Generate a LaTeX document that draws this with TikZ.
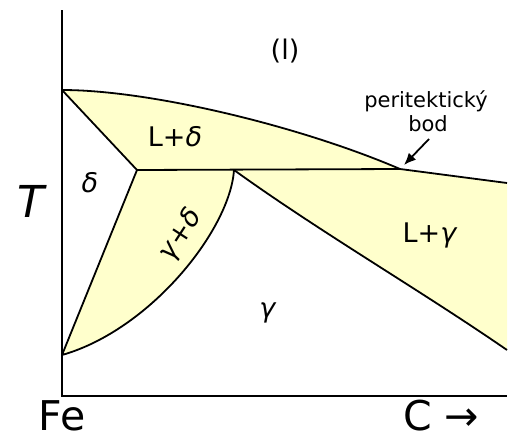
\documentclass[tikz,border=0pt]{standalone}
\usepackage{fontspec}
\setmainfont{DejaVu Sans}[ItalicFont={DejaVu Sans Oblique}]
\usetikzlibrary{arrows.meta}

\definecolor{phasefill}{HTML}{FFFFCC}

\begin{document}
\begin{tikzpicture}[x=1pt, y=-1pt, >=Latex,
      bnd/.style={line width=1.8pt, line join=round},
      ax/.style={line width=1.3pt},
      phase/.style={font=\fontsize{27}{27}\selectfont, inner sep=0pt},
      big/.style={font=\fontsize{41}{41}\selectfont, inner sep=0pt},
      note/.style={font=\fontsize{21}{23}\selectfont, inner sep=0pt}]

    \useasboundingbox (0,0) rectangle (516,439);

    % Key points of the diagram (pixel units, y down)
    \coordinate (yend) at (62,10);
    \coordinate (xend) at (507,396);
    \coordinate (top)  at (62,90);    % melting point of pure Fe
    \coordinate (dsol) at (137,170);  % delta end of peritectic line
    \coordinate (gpk)  at (234,170);  % gamma end of peritectic line
    \coordinate (peri) at (400,169);  % peritectic point
    \coordinate (liqR) at (507,183);
    \coordinate (gamR) at (507,350);
    \coordinate (low)  at (62,355);   % gamma/delta change of pure Fe

    % Two-phase areas
    \fill[phasefill] (top) .. controls (150,90) and (300,126) .. (peri) -- (liqR) -- (gamR)
        .. controls (420,290) and (320,232) .. (gpk) -- (dsol) -- cycle;
    \fill[phasefill] (dsol) -- (low) .. controls (150,330) and (230,230) .. (gpk) -- cycle;

    % Axes
    \draw[ax] (yend) |- (xend);

    % Phase boundaries
    \draw[bnd] (top) .. controls (150,90) and (300,126) .. (peri) -- (liqR);
    \draw[bnd] (top) -- (dsol) -- (peri);
    \draw[bnd] (dsol) -- (low) .. controls (150,330) and (230,230) .. (gpk);
    \draw[bnd] (gpk) .. controls (320,232) and (420,290) .. (gamR);

    % Phase labels
    \node[phase] (liq)  at (285,51)  {(l)};
    \node[phase] (ldel) at (175,137) {L+\textit{δ}};
    \node[phase] (del)  at (90,183)  {\textit{δ}};
    \node[phase, rotate=57] (gdel) at (181,235) {\textit{γ}+\textit{δ}};
    \node[phase] (gam)  at (268,313) {\textit{γ}};
    \node[phase] (lgam) at (430,235) {L+\textit{γ}};

    % Axis labels
    \node[big, font=\fontsize{44}{44}\selectfont\itshape] (temp) at (31,201) {T};
    \node[big] (fe) at (62,416) {Fe};
    \node[big] (carb) at (441,416) {C →};

    % Peritectic point note
    \node[note] (perit) at (426,101) {peritektický};
    \node[note] (bod)   at (428,124) {bod};
    \coordinate (arrS) at (429,139);
    \coordinate (arrE) at (404,165);
    \draw[line width=1.8pt, -{Latex[length=12pt, width=10pt]}] (arrS) -- (arrE);

\end{tikzpicture}
\end{document}
